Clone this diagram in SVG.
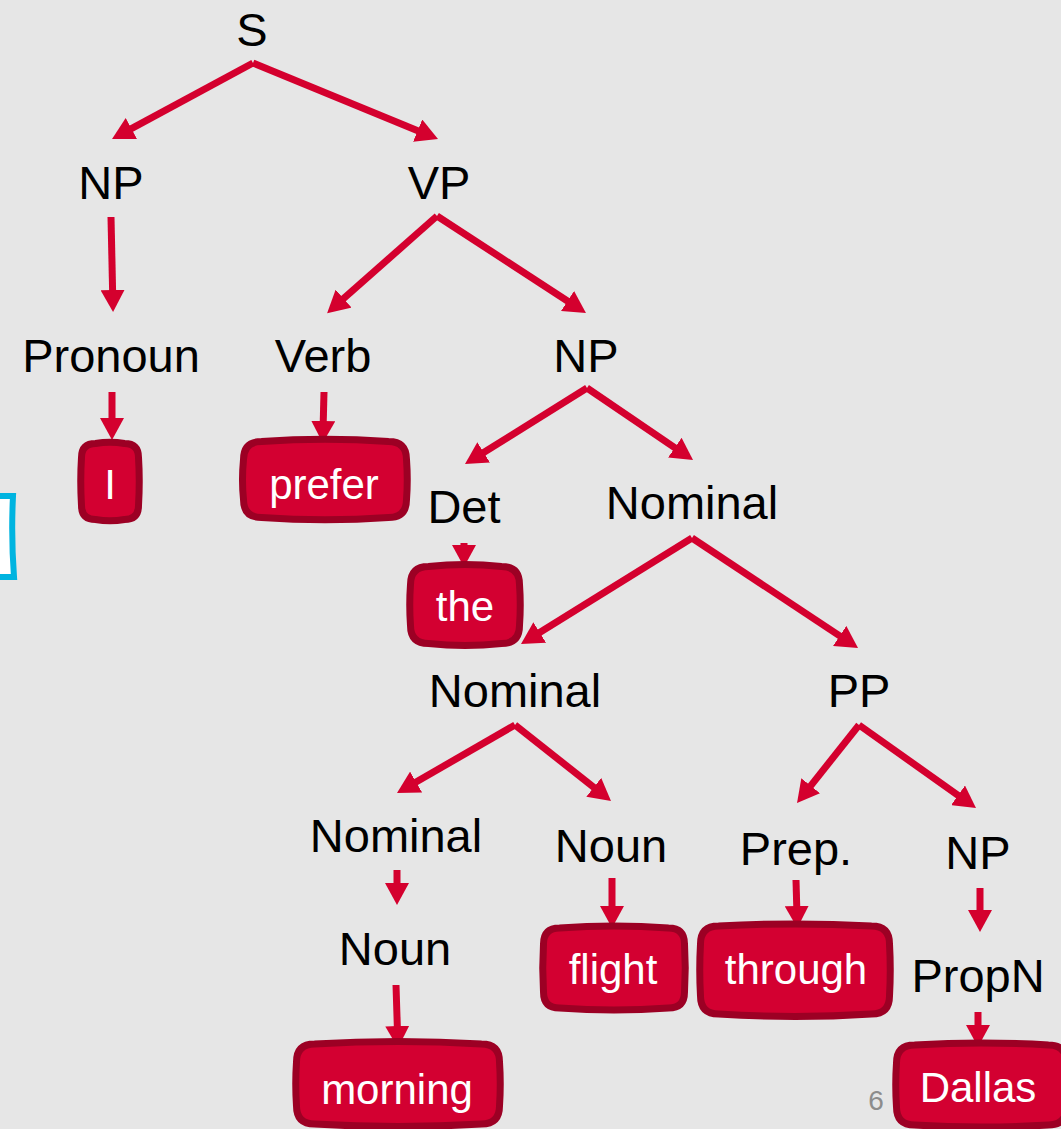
<svg xmlns="http://www.w3.org/2000/svg" width="1061" height="1129" viewBox="0 0 1061 1129">
<style>
.lbl{font-family:"Liberation Sans",Arial,sans-serif;font-size:47px;fill:#000;text-anchor:middle}
.wd{font-family:"Liberation Sans",Arial,sans-serif;font-size:42px;fill:#fff;text-anchor:middle}
.box{fill:#d30031;stroke:#9c0024;stroke-width:7;stroke-linejoin:round}
.arr{stroke:#d4002e;stroke-width:7;fill:none;marker-end:url(#ah)}
</style>
<defs>
<marker id="ah" markerUnits="userSpaceOnUse" viewBox="0 0 22 24" markerWidth="22" markerHeight="24" refX="10" refY="12" orient="auto">
<path d="M0,0 L22,12 L0,24 Z" fill="#d4002e"/>
</marker>
</defs>
<rect width="1061" height="1129" fill="#e6e6e6"/>
<g id="bracket"><path d="M-40,496 L13,496 Q11,536 14,577 L-40,577 Z" fill="#fff" stroke="#00b4e0" stroke-width="6"/></g>
<g id="connectors">
<line class="arr" x1="253" y1="63" x2="122.6" y2="133.3"/>
<line class="arr" x1="253" y1="63" x2="426.9" y2="134.4"/>
<line class="arr" x1="111" y1="217" x2="112.8" y2="300"/>
<line class="arr" x1="437" y1="216" x2="336.1" y2="305.2"/>
<line class="arr" x1="437" y1="216" x2="575.9" y2="306.5"/>
<line class="arr" x1="112" y1="392" x2="112" y2="428"/>
<line class="arr" x1="324" y1="392" x2="323" y2="431"/>
<line class="arr" x1="587" y1="388" x2="475.2" y2="457.7"/>
<line class="arr" x1="587" y1="388" x2="683.1" y2="453.3"/>
<line class="arr" x1="464" y1="543" x2="464" y2="555"/>
<line class="arr" x1="692" y1="538" x2="531.2" y2="637.7"/>
<line class="arr" x1="692" y1="538" x2="848" y2="641.4"/>
<line class="arr" x1="515" y1="725" x2="407.4" y2="787"/>
<line class="arr" x1="515" y1="725" x2="601.6" y2="793.5"/>
<line class="arr" x1="859" y1="725" x2="804.5" y2="793.6"/>
<line class="arr" x1="859" y1="725" x2="966.2" y2="801.1"/>
<line class="arr" x1="397" y1="870" x2="397" y2="893"/>
<line class="arr" x1="612" y1="878" x2="612" y2="916"/>
<line class="arr" x1="796" y1="880" x2="797" y2="916"/>
<line class="arr" x1="980" y1="888" x2="980" y2="920"/>
<line class="arr" x1="396" y1="985" x2="397.6" y2="1036"/>
<line class="arr" x1="978" y1="1012" x2="978" y2="1035"/>
</g>
<g id="n-S"><text class="lbl" x="252" y="46">S</text></g>
<g id="n-NP1"><text class="lbl" x="111" y="199">NP</text></g>
<g id="n-VP"><text class="lbl" x="439" y="199">VP</text></g>
<g id="n-Pronoun"><text class="lbl" x="111" y="372">Pronoun</text></g>
<g id="n-Verb"><text class="lbl" x="323" y="372">Verb</text></g>
<g id="n-NP2"><text class="lbl" x="586" y="372">NP</text></g>
<g id="n-Det"><text class="lbl" x="464" y="523">Det</text></g>
<g id="n-Nominal1"><text class="lbl" x="692" y="519">Nominal</text></g>
<g id="n-Nominal2"><text class="lbl" x="515" y="707">Nominal</text></g>
<g id="n-PP"><text class="lbl" x="859" y="707">PP</text></g>
<g id="n-Nominal3"><text class="lbl" x="396" y="852">Nominal</text></g>
<g id="n-Noun1"><text class="lbl" x="611" y="862">Noun</text></g>
<g id="n-Prep"><text class="lbl" x="796" y="865">Prep.</text></g>
<g id="n-NP3"><text class="lbl" x="978" y="869">NP</text></g>
<g id="n-Noun2"><text class="lbl" x="395" y="965">Noun</text></g>
<g id="n-PropN"><text class="lbl" x="978" y="992">PropN</text></g>
<g id="w-I"><path class="box" d="M95.5,443.5 Q110,441 124.5,443.5 Q138.5,443.5 138.5,457.5 Q140,481 138.5,505.5 Q138.5,519.5 124.5,519.5 Q110,522 95.5,519.5 Q81.5,519.5 81.5,505.5 Q80,481 81.5,457.5 Q81.5,443.5 95.5,443.5 Z"/><text class="wd" x="110" y="499">I</text></g>
<g id="w-prefer"><path class="box" d="M261.5,441.5 Q325,437 388.5,441.5 Q406.5,441.5 406.5,459.5 Q408,480 406.5,499.5 Q406.5,517.5 388.5,517.5 Q325,522 261.5,517.5 Q243.5,517.5 243.5,499.5 Q241.5,480 243.5,459.5 Q243.5,441.5 261.5,441.5 Z"/><text class="wd" x="324" y="499">prefer</text></g>
<g id="w-the"><path class="box" d="M428.5,566.5 Q465,562.5 501.5,566.5 Q519.5,566.5 519.5,584.5 Q521,605 519.5,625.5 Q519.5,643.5 501.5,643.5 Q465,647.5 428.5,643.5 Q410.5,643.5 410.5,625.5 Q409,605 410.5,584.5 Q410.5,566.5 428.5,566.5 Z"/><text class="wd" x="465" y="621">the</text></g>
<g id="w-flight"><path class="box" d="M559.5,928 Q614,924 668.5,928 Q684.5,928 684.5,944 Q686,968 684.5,992 Q684.5,1008 668.5,1008 Q614,1012 559.5,1008 Q543.5,1008 543.5,992 Q542,968 543.5,944 Q543.5,928 559.5,928 Z"/><text class="wd" x="613" y="984">flight</text></g>
<g id="w-through"><path class="box" d="M718.5,926 Q795,922 871.5,926 Q889.5,926 889.5,944 Q891,970 889.5,996 Q889.5,1014 871.5,1014 Q795,1019 718.5,1014 Q700.5,1014 700.5,996 Q699,970 700.5,944 Q700.5,926 718.5,926 Z"/><text class="wd" x="796" y="984">through</text></g>
<g id="w-morning"><path class="box" d="M314.5,1044 Q398,1039 481.5,1044 Q499.5,1044 499.5,1062 Q501,1084 499.5,1106 Q499.5,1124 481.5,1124 Q398,1129 314.5,1124 Q296.5,1124 296.5,1106 Q295,1084 296.5,1062 Q296.5,1044 314.5,1044 Z"/><text class="wd" x="397" y="1104">morning</text></g>
<g id="w-Dallas"><path class="box" d="M914.5,1045 Q981,1041 1048.5,1045 Q1066.5,1045 1066.5,1063 L1066.5,1107 Q1066.5,1125 1048.5,1125 Q981,1129 914.5,1125 Q896.5,1125 896.5,1107 Q895,1085 896.5,1063 Q896.5,1045 914.5,1045 Z"/><text class="wd" x="978" y="1102">Dallas</text></g>
<text x="876" y="1110" font-family="Liberation Sans,Arial,sans-serif" font-size="28" fill="#8c8c8c" text-anchor="middle">6</text>
</svg>
